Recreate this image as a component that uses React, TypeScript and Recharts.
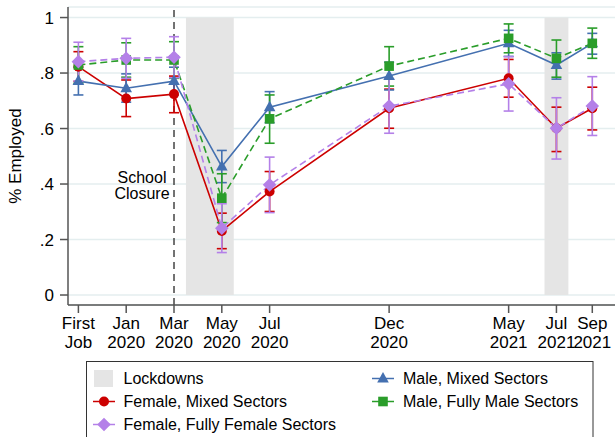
import React from 'react';
import {
  ComposedChart, Line, XAxis, YAxis, CartesianGrid, ErrorBar,
  ReferenceArea, ReferenceLine,
} from 'recharts';

// Months since "First Job" reference point
const monthPos = [0, 2, 4, 6, 8, 13, 18, 20, 21.5];
const tickLabels: [string, string][] = [
  ['First', 'Job'], ['Jan', '2020'], ['Mar', '2020'], ['May', '2020'], ['Jul', '2020'],
  ['Dec', '2020'], ['May', '2021'], ['Jul', '2021'], ['Sep', '2021'],
];
const yTicks = [0, 0.2, 0.4, 0.6, 0.8, 1];

const femaleMixed = [0.823, 0.708, 0.724, 0.231, 0.373, 0.673, 0.781, 0.601, 0.673];
const femaleMixedLo = [0.770, 0.643, 0.657, 0.167, 0.301, 0.601, 0.713, 0.517, 0.595];
const femaleMixedHi = [0.877, 0.775, 0.789, 0.295, 0.445, 0.742, 0.849, 0.677, 0.749];

const femaleFemale = [0.841, 0.853, 0.857, 0.241, 0.397, 0.681, 0.761, 0.601, 0.681];
const femaleFemaleLo = [0.771, 0.781, 0.783, 0.153, 0.297, 0.583, 0.663, 0.490, 0.575];
const femaleFemaleHi = [0.911, 0.925, 0.931, 0.329, 0.497, 0.779, 0.859, 0.711, 0.787];

const maleMixed = [0.771, 0.745, 0.771, 0.463, 0.677, 0.789, 0.907, 0.829, 0.907];
const maleMixedLo = [0.721, 0.695, 0.721, 0.405, 0.621, 0.739, 0.860, 0.778, 0.868];
const maleMixedHi = [0.821, 0.797, 0.821, 0.521, 0.733, 0.839, 0.954, 0.873, 0.943];

const maleMale = [0.829, 0.847, 0.847, 0.349, 0.635, 0.825, 0.925, 0.853, 0.907];
const maleMaleLo = [0.763, 0.785, 0.781, 0.261, 0.547, 0.753, 0.873, 0.785, 0.853];
const maleMaleHi = [0.895, 0.909, 0.913, 0.437, 0.721, 0.895, 0.977, 0.919, 0.962];

const lockdowns: [number, number][] = [[4.5, 6.5], [19.5, 20.5]];
const schoolClosure = 4;

const RED = '#cc0000';
const PURPLE = '#b480e8';
const BLUE = '#4470b0';
const GREEN = '#2a9d2a';
const LOCK = '#e5e5e5';
const FONT = '"Liberation Sans", Arial, Helvetica, sans-serif';

const data = monthPos.map((x, i) => ({
  x,
  fm: femaleMixed[i], fmErr: [femaleMixed[i] - femaleMixedLo[i], femaleMixedHi[i] - femaleMixed[i]],
  ff: femaleFemale[i], ffErr: [femaleFemale[i] - femaleFemaleLo[i], femaleFemaleHi[i] - femaleFemale[i]],
  mm: maleMixed[i], mmErr: [maleMixed[i] - maleMixedLo[i], maleMixedHi[i] - maleMixed[i]],
  mf: maleMale[i], mfErr: [maleMale[i] - maleMaleLo[i], maleMaleHi[i] - maleMale[i]],
}));

type Shape = 'circle' | 'diamond' | 'triangle' | 'square';
const Marker = ({ cx, cy, shape, color }: { cx: number; cy: number; shape: Shape; color: string }) => {
  if (cx == null || cy == null || isNaN(cx) || isNaN(cy)) return null;
  if (shape === 'circle') return <circle cx={cx} cy={cy} r={5} fill={color} />;
  if (shape === 'diamond') {
    const h = 6.8;
    return <polygon points={`${cx},${cy - h} ${cx + h},${cy} ${cx},${cy + h} ${cx - h},${cy}`} fill={color} />;
  }
  if (shape === 'triangle') {
    return <polygon points={`${cx},${cy - 6.5} ${cx + 5.8},${cy + 4} ${cx - 5.8},${cy + 4}`} fill={color} />;
  }
  return <rect x={cx - 4.8} y={cy - 4.8} width={9.6} height={9.6} fill={color} />;
};

const makeDot = (shape: Shape, color: string) => (p: any) => (
  <Marker key={`d-${shape}-${p.index}`} cx={p.cx} cy={p.cy} shape={shape} color={color} />
);

const XTick = (props: any) => {
  const { x, y, payload } = props;
  const i = monthPos.indexOf(payload.value);
  if (i < 0) return null;
  const [a, b] = tickLabels[i];
  return (
    <g>
      <text x={x} y={y + 14} textAnchor="middle" fontSize={17} fontFamily={FONT} fill="#000">{a}</text>
      <text x={x} y={y + 32.5} textAnchor="middle" fontSize={17} fontFamily={FONT} fill="#000">{b}</text>
    </g>
  );
};

const fmtY = (v: number) => (v === 0 ? '0' : v === 1 ? '1' : String(v).replace(/^0/, ''));

const series = [
  { key: 'fm', err: 'fmErr', color: RED, shape: 'circle' as Shape, dash: undefined, name: 'Female, Mixed Sectors' },
  { key: 'mm', err: 'mmErr', color: BLUE, shape: 'triangle' as Shape, dash: undefined, name: 'Male, Mixed Sectors' },
  { key: 'mf', err: 'mfErr', color: GREEN, shape: 'square' as Shape, dash: '7 4', name: 'Male, Fully Male Sectors' },
  { key: 'ff', err: 'ffErr', color: PURPLE, shape: 'diamond' as Shape, dash: '7 4', name: 'Female, Fully Female Sectors' },
];

const legendCol1 = [
  { name: 'Lockdowns', color: LOCK, shape: null as Shape | null },
  { name: 'Female, Mixed Sectors', color: RED, shape: 'circle' as Shape },
  { name: 'Female, Fully Female Sectors', color: PURPLE, shape: 'diamond' as Shape },
];
const legendCol2 = [
  { name: 'Male, Mixed Sectors', color: BLUE, shape: 'triangle' as Shape },
  { name: 'Male, Fully Male Sectors', color: GREEN, shape: 'square' as Shape },
];

const LegendBox = () => {
  const rows = [378.5, 401.5, 424.5];
  const renderItem = (it: { name: string; color: string; shape: Shape | null }, i: number, sx: number, tx: number) => {
    const y = rows[i];
    return (
      <g key={it.name}>
        {it.shape === null ? (
          <rect x={sx - 10} y={y - 8.5} width={19} height={17} fill={it.color} />
        ) : (
          <g>
            <line x1={sx - 11} x2={sx + 11} y1={y} y2={y} stroke={it.color} strokeWidth={1.5} />
            <Marker cx={sx} cy={y} shape={it.shape} color={it.color} />
          </g>
        )}
        <text x={tx} y={y + 5.6} fontSize={16} fontFamily={FONT} fill="#000">{it.name}</text>
      </g>
    );
  };
  return (
    <svg width={615} height={437} style={{ position: 'absolute', left: 0, top: 0, pointerEvents: 'none' }}>
      <rect x={86.5} y={361.5} width={506.5} height={90} fill="#fff" stroke="#333" strokeWidth={1} />
      {legendCol1.map((it, i) => renderItem(it, i, 104, 123.5))}
      {legendCol2.map((it, i) => renderItem(it, i, 383, 403))}
    </svg>
  );
};

const SchoolLabel = (props: any) => {
  const vb = props.viewBox || {};
  const cx = vb.x - 32;
  return (
    <g>
      <text x={cx} y={vb.y + 176} textAnchor="middle" fontSize={16} fontFamily={FONT} fill="#000">School</text>
      <text x={cx} y={vb.y + 192} textAnchor="middle" fontSize={16} fontFamily={FONT} fill="#000">Closure</text>
    </g>
  );
};

const YLabel = (props: any) => {
  const vb = props.viewBox || {};
  const cy = vb.y + vb.height / 2;
  return (
    <text x={15} y={cy} transform={`rotate(-90 15 ${cy})`} textAnchor="middle" dominantBaseline="central"
      fontSize={17} fontFamily={FONT} fill="#000">% Employed</text>
  );
};

export default function App() {
  return (
    <div style={{ position: 'absolute', left: 0, top: 0, width: 615, height: 437, background: '#fff' }}>
      <ComposedChart width={615} height={437} data={data}
        margin={{ top: 7, right: 0, bottom: 100, left: 0 }} style={{ fontFamily: FONT }}>
        <CartesianGrid horizontal vertical={false} stroke="#e4eeef" strokeWidth={1.5} />
        {lockdowns.map(([a, b], i) => (
          <ReferenceArea key={`lock-${i}`} x1={a} x2={b} y1={0} y2={1} fill={LOCK} fillOpacity={1} stroke="none" />
        ))}
        <XAxis type="number" dataKey="x" domain={[-0.435, 22.45]} ticks={monthPos} allowDataOverflow
          interval={0} height={32} tickSize={8} tickMargin={2}
          axisLine={{ stroke: '#555', strokeWidth: 1.5 }} tickLine={{ stroke: '#555', strokeWidth: 1.5 }}
          tick={<XTick />} />
        <YAxis type="number" domain={[-0.036, 1.038]} ticks={yTicks} allowDataOverflow width={68}
          tickSize={8} tickMargin={6} tickFormatter={fmtY}
          axisLine={{ stroke: '#555', strokeWidth: 1.5 }} tickLine={{ stroke: '#555', strokeWidth: 1.5 }}
          tick={{ fontSize: 17, fill: '#000', fontFamily: FONT }}
          label={{ content: <YLabel /> }} />
        <ReferenceLine x={schoolClosure} stroke="#444" strokeWidth={1.5} strokeDasharray="7 5"
          label={{ content: <SchoolLabel /> }} />
        {series.map((s) => (
          <Line key={s.key} type="linear" dataKey={s.key} stroke={s.color} strokeWidth={1.6}
            strokeDasharray={s.dash} isAnimationActive={false} dot={makeDot(s.shape, s.color)}
            activeDot={false}>
            <ErrorBar dataKey={s.err} direction="y" width={5} stroke={s.color} strokeWidth={1.6} />
          </Line>
        ))}
      </ComposedChart>
      <LegendBox />
    </div>
  );
}
